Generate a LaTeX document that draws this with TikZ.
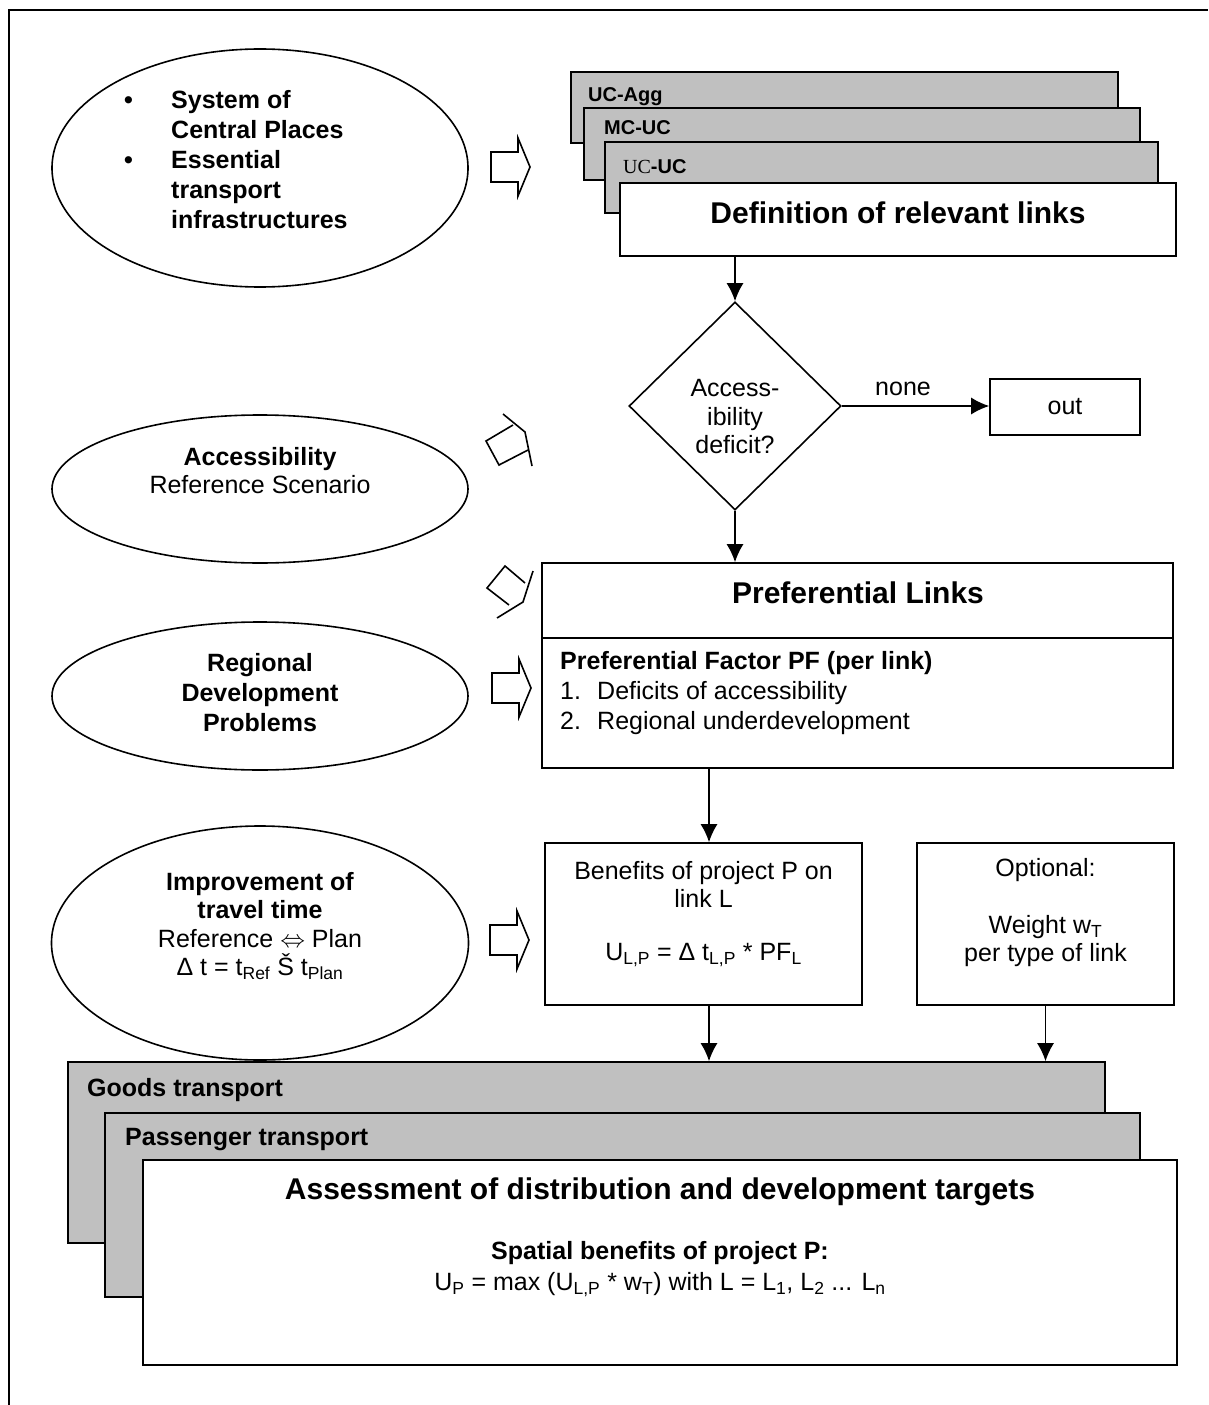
\documentclass[tikz,border=0pt]{standalone}
\usepackage{fontspec}
\setmainfont{Liberation Sans}
\newfontfamily\timesfont{Liberation Serif}
\usetikzlibrary{shapes.geometric,arrows.meta}
\definecolor{boxgray}{RGB}{192,192,192}
\newcommand\sbs[1]{\textsubscript{#1}}
\newcommand\bodyfont{\fontsize{25bp}{30bp}\selectfont}
\newcommand\titlefont{\fontsize{30bp}{36bp}\selectfont\bfseries}
\newcommand\labfont{\fontsize{20bp}{24bp}\selectfont\bfseries}
\tikzset{barrow/.pic={\draw[line width=1.6bp,fill=white,line join=miter] (0,-15) -- (27,-15) -- (27,-29) -- (39,0) -- (27,29) -- (27,15) -- (0,15) -- cycle;}}
\begin{document}
\begin{tikzpicture}[x=1bp,y=-1bp,
  lw/.style={line width=1.6bp},
  box/.style={draw,lw,rectangle,inner sep=0pt,fill=white},
  graybox/.style={box,fill=boxgray},
  oval/.style={draw,lw,ellipse,inner sep=0pt},
  txt/.style={inner sep=0pt,font=\bodyfont,align=center},
  lab/.style={anchor=base west,inner sep=0pt,font=\labfont},
  arr/.style={lw,-{Latex[length=18bp,width=17bp]}},
]
\useasboundingbox (0,0) rectangle (1208,1405);
\draw[line width=2.2bp] (9,1405) -- (9,10) -- (1208,10);

% ellipses
\node[oval,minimum width=416bp,minimum height=238bp] (e1) at (260,168) {};
\node[anchor=west,inner sep=0pt,font=\bodyfont\bfseries] (t1) at (124,163) {\begin{tabular}{@{}p{47bp}@{}l@{}}\textbullet & System of\\ & Central Places\\ \textbullet & Essential\\ & transport\\ & infrastructures\end{tabular}};
\node[oval,minimum width=416bp,minimum height=148bp] (e2) at (260,489) {};
\node[txt,font=\fontsize{25bp}{28bp}\selectfont] (t2) at (260,471) {\textbf{Accessibility}\\Reference Scenario};
\node[oval,minimum width=416bp,minimum height=148bp] (e3) at (260,696) {};
\node[txt,font=\bodyfont\bfseries] (t3) at (260,693) {Regional\\Development\\Problems};
\node[oval,minimum width=417bp,minimum height=234bp] (e4) at (260,943) {};
\node[txt,font=\fontsize{25bp}{28.5bp}\selectfont] (t4) at (260,926) {\textbf{Improvement of}\\\textbf{travel time}\\Reference $\Leftrightarrow$ Plan\\Δ t = t\sbs{Ref} Š t\sbs{Plan}};

% block arrows
\pic at (491,167) {barrow};
\pic at (492,688) {barrow};
\pic at (490,940) {barrow};
\draw[lw,line join=miter] (503,414) -- (525,432) -- (532,466);
\draw[lw,line join=miter] (513,425) -- (486,441) -- (499,465) -- (528,450);
\draw[lw,line join=miter] (533,571) -- (523,602) -- (497,618);
\draw[lw,line join=miter] (525,583) -- (505,566) -- (487,588) -- (509,605);

% top stack
\node[graybox,minimum width=547bp,minimum height=71bp] (agg) at (844.5,107.5) {};
\node[lab] (aggl) at (588,102) {UC-Agg};
\node[graybox,minimum width=556bp,minimum height=72bp] (mcuc) at (862,144) {};
\node[lab] (mcucl) at (604,135) {MC-UC};
\node[graybox,minimum width=553bp,minimum height=71bp] (ucuc) at (881.5,177.5) {};
\node[lab] (ucucl) at (623,174) {{\timesfont\mdseries UC}-UC};
\node[box,minimum width=556bp,minimum height=73bp] (def) at (898,219.5) {};
\node[anchor=base,inner sep=0pt,font=\titlefont] (deft) at (898,224) {Definition of relevant links};

% diamond
\node[draw,lw,diamond,minimum width=212bp,minimum height=208bp,inner sep=0pt,fill=white] (dia) at (735,406) {};
\node[txt,font=\fontsize{25bp}{28.5bp}\selectfont] (diat) at (735,417) {Access-\\ibility\\deficit?};
\node[txt,anchor=base] (none) at (903,395) {none};
\node[box,minimum width=150bp,minimum height=56bp,font=\bodyfont] (out) at (1065,407) {out};

% preferential links
\node[box,minimum width=631bp,minimum height=205bp] (pl) at (857.5,665.5) {};
\coordinate (d1) at (542,638);
\draw[lw] (d1 -| pl.west) -- (d1 -| pl.east);
\node[anchor=base,inner sep=0pt,font=\titlefont] (plt) at (858,603) {Preferential Links};
\node[anchor=west,inner sep=0pt,font=\bodyfont] (pf) at (560,693) {\begin{tabular}{@{}p{37bp}@{}l@{}}\multicolumn{2}{@{}l@{}}{\bfseries Preferential Factor PF (per link)}\\ 1. & Deficits of accessibility\\ 2. & Regional underdevelopment\end{tabular}};

% benefits / optional
\node[box,minimum width=317bp,minimum height=162bp] (ben) at (703.5,924) {};
\node[txt,font=\fontsize{25bp}{28bp}\selectfont] (bent) at (703.5,884) {Benefits of project P on\\link L};
\node[txt] (benf) at (703.5,955) {U\sbs{L,P} = Δ t\sbs{L,P} * PF\sbs{L}};
\node[box,minimum width=257bp,minimum height=162bp] (opt) at (1045.5,924) {};
\node[txt] (optt) at (1045.5,870) {Optional:};
\node[txt,font=\fontsize{25bp}{28bp}\selectfont] (optw) at (1045.5,941) {Weight w\sbs{T}\\per type of link};

% bottom stack
\node[graybox,minimum width=1037bp,minimum height=181bp] (goods) at (586.5,1152.5) {};
\node[lab,font=\bodyfont\bfseries] (goodsl) at (87,1096) {Goods transport};
\node[graybox,minimum width=1035bp,minimum height=184bp] (pass) at (622.5,1205) {};
\node[lab,font=\bodyfont\bfseries] (passl) at (125,1145) {Passenger transport};
\node[box,minimum width=1034bp,minimum height=205bp] (ass) at (660,1262.5) {};
\node[anchor=base,inner sep=0pt,font=\titlefont] (asst) at (660,1199) {Assessment of distribution and development targets};
\node[txt,font=\fontsize{25bp}{31bp}\selectfont] (spat) at (660,1269) {{\bfseries Spatial benefits of project P:}\\U\sbs{P} = max (U\sbs{L,P} * w\sbs{T}) with L = L\sbs{1}, L\sbs{2} ... L\sbs{n}};

% connectors
\coordinate (x709) at (709,0);
\draw[arr] (def.south -| dia.north) -- (dia.north);
\draw[arr] (dia.east) -- (dia.east -| out.west);
\draw[arr] (dia.south) -- (dia.south |- pl.north);
\draw[arr] (pl.south -| x709) -- (ben.north -| x709);
\draw[arr] (ben.south -| x709) -- (goods.north -| x709);
\draw[arr] (opt.south) -- (opt.south |- goods.north);
\end{tikzpicture}
\end{document}
